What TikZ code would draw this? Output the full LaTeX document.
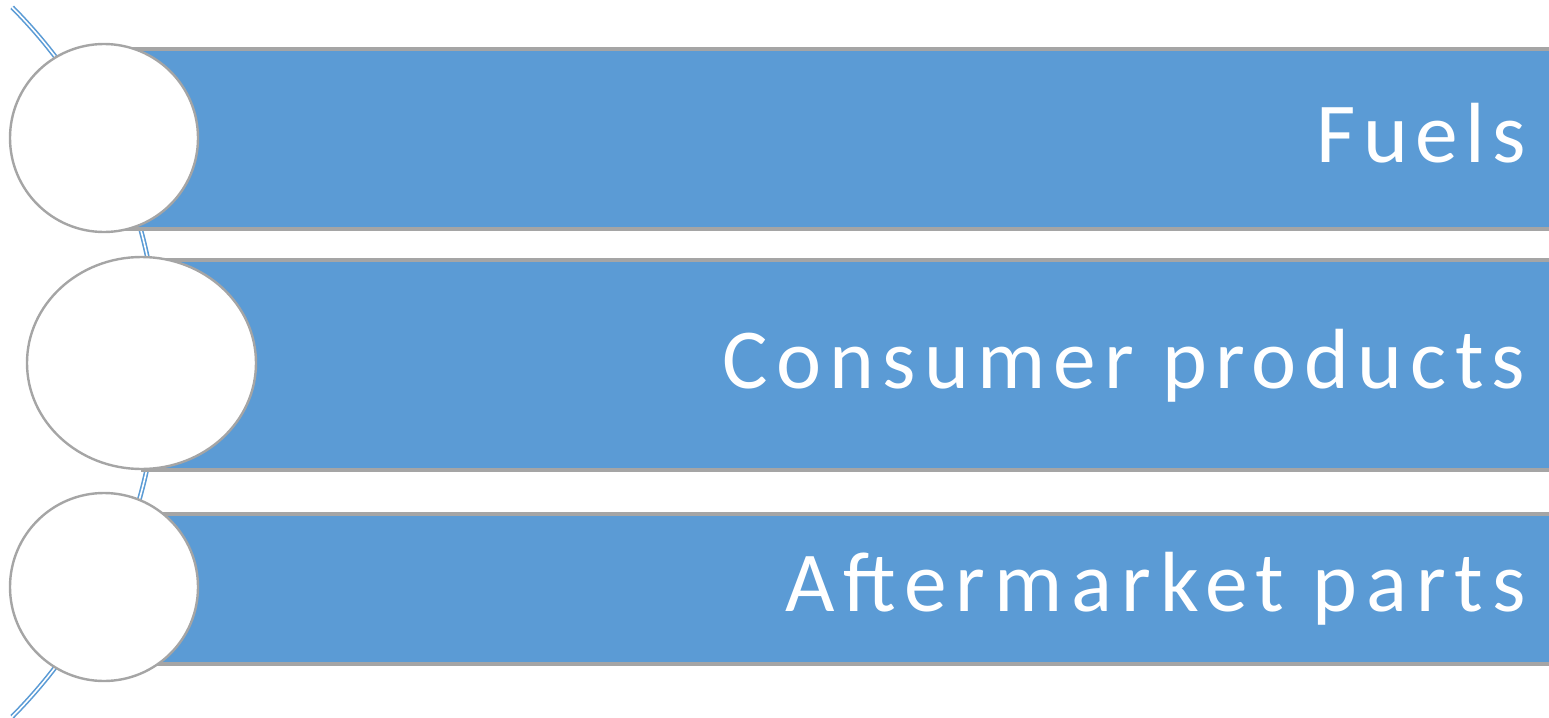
\documentclass[tikz,border=0pt]{standalone}
\usepackage{fontspec}
\setmainfont{Carlito}
\usepackage{tikz}
\usetikzlibrary{shapes.geometric}

\definecolor{barblue}{HTML}{5B9BD5}
\definecolor{rimgray}{HTML}{A5A5A5}

\begin{document}
\begin{tikzpicture}[x=0.5pt, y=-0.5pt,
        bar/.style={rectangle,
                draw=rimgray,
                line width=2pt,
                fill=barblue,
                inner sep=0pt,
                anchor=north west},
        disc/.style={ellipse,
                draw=rimgray,
                line width=1.2pt,
                fill=white,
                inner sep=0pt},
        lbl/.style={text=white,
                inner sep=0pt,
                anchor=base east,
                font=\fontsize{42.7}{50}\selectfont\addfontfeature{LetterSpace=#1}}]
            \useasboundingbox (0,0) rectangle (1549,718);

            % the rail behind everything
            \coordinate (hub) at (-345,362);
            \draw[barblue, line width=0.8pt, double=white, double distance=0.8pt]
                (hub) ++(-44.8:503.4) arc[start angle=-44.8, end angle=44.8, radius=503.4];

            \node[bar, minimum width=748pt, minimum height=90pt] (bar1) at (104,47) {};
            \node[bar, minimum width=729pt, minimum height=105pt] (bar2) at (141,258) {};
            \node[bar, minimum width=748pt, minimum height=75pt] (bar3) at (104,512) {};

            \node[disc, minimum width=94pt, minimum height=94pt] (disc1) at (104,138) {};
            \node[disc, minimum width=114.5pt, minimum height=106pt] (disc2) at (141.5,363) {};
            \node[disc, minimum width=94pt, minimum height=94pt] (disc3) at (104,587) {};

            \node[lbl=8.6] (fuels) at (1526,162) {Fuels};
            \node[lbl=9.6] (consumer) at (1526,388) {Consumer products};
            \node[lbl=10.4] (parts) at (1526,611) {Aftermarket parts};
        \end{tikzpicture}
\end{document}
